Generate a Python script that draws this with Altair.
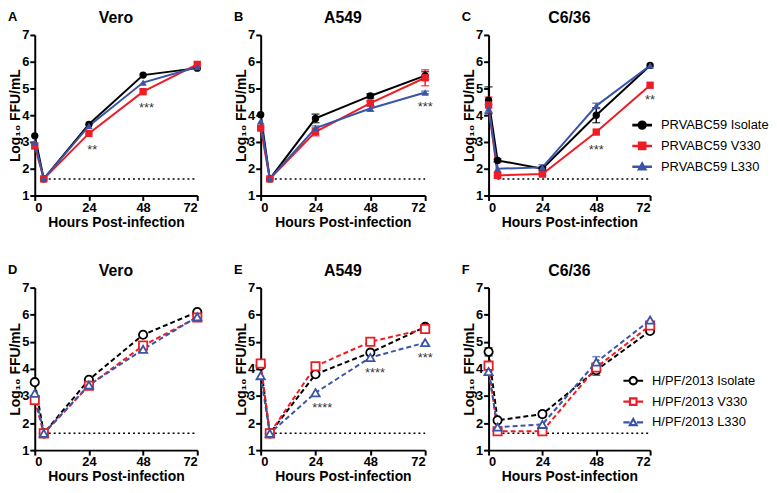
import json
import altair as alt
import pandas as pd

FONT = "Liberation Sans"

hours = [0, 4, 24, 48, 72]

names_top = ["PRVABC59 Isolate", "PRVABC59 V330", "PRVABC59 L330"]
names_bot = ["H/PF/2013 Isolate", "H/PF/2013 V330", "H/PF/2013 L330"]
colors = ["#000000", "#EE1D25", "#3B55A6"]
shapes = ["circle", "square", "triangle-up"]

# legend symbols: a short line with the marker on it
_circ = "M0.5,0A0.5,0.5,0,1,1,-0.5,0A0.5,0.5,0,1,1,0.5,0Z"
_sq = "M-0.45,-0.45H0.45V0.45H-0.45Z"
_tri = "M0,-0.52L0.5,0.38H-0.5Z"
_bar = "M-1.15,-0.07H1.15V0.07H-1.15Z"
_circ_in = "M0.42,0A0.42,0.42,0,1,0,-0.42,0A0.42,0.42,0,1,0,0.42,0Z"
_sq_in = "M-0.37,-0.37V0.37H0.37V-0.37Z"
_tri_in = "M0,-0.36L-0.37,0.3H0.37Z"
_segs = "M-1.15,-0.04H-0.55V0.04H-1.15ZM0.55,-0.04H1.15V0.04H0.55Z"
legend_paths_top = [_bar + _circ, _bar + _sq, _bar + _tri]
legend_paths_bot = [_segs + _circ + _circ_in, _segs + _sq + _sq_in, _segs + _tri + _tri_in]

panel_titles = ["Vero", "A549", "C6/36", "Vero", "A549", "C6/36"]
panel_letters = ["A", "B", "C", "D", "E", "F"]

# titer values (Log10 FFU/mL), per panel, per series (Isolate, V330, L330)
A_iso = [3.23, 1.62, 3.66, 5.50, 5.76]
A_v330 = [2.85, 1.62, 3.32, 4.88, 5.90]
A_l330 = [3.00, 1.62, 3.60, 5.22, 5.80]

B_iso = [4.02, 1.62, 3.88, 4.72, 5.48]
B_v330 = [3.52, 1.62, 3.38, 4.45, 5.40]
B_l330 = [3.78, 1.62, 3.52, 4.25, 4.85]

C_iso = [4.56, 2.31, 2.00, 4.00, 5.86]
C_v330 = [4.38, 1.75, 1.80, 3.37, 5.12]
C_l330 = [4.25, 2.00, 2.05, 4.35, 5.86]

D_iso = [3.51, 1.62, 3.60, 5.26, 6.10]
D_v330 = [2.85, 1.62, 3.38, 4.86, 5.90]
D_l330 = [3.10, 1.62, 3.40, 4.72, 5.92]

E_iso = [4.12, 1.62, 3.80, 4.60, 5.55]
E_v330 = [4.20, 1.62, 4.10, 5.00, 5.47]
E_l330 = [3.75, 1.62, 3.12, 4.42, 4.97]

F_iso = [4.63, 2.10, 2.33, 3.95, 5.40]
F_v330 = [4.12, 1.70, 1.70, 4.05, 5.60]
F_l330 = [3.90, 1.85, 1.95, 4.25, 5.80]

# error bar half-widths (SD)
zero = [0, 0, 0, 0, 0]
B_iso_err = [0, 0, 0.16, 0.08, 0.15]
B_v330_err = [0, 0, 0.15, 0.08, 0.30]
B_l330_err = [0, 0, 0.08, 0.10, 0.05]
C_iso_err = [0.50, 0.05, 0.05, 0.28, 0]
C_v330_err = [0.30, 0.10, 0.05, 0, 0]
C_l330_err = [0.15, 0.25, 0.10, 0.10, 0]
F_iso_err = [0.15, 0, 0.10, 0.18, 0]
F_v330_err = [0, 0, 0, 0.15, 0]
F_l330_err = [0, 0, 0, 0.20, 0]

# significance annotations: (panel, hour, titer, label)
ann_panel = ["A", "A", "B", "C", "C", "E", "E", "E"]
ann_hour = [25.5, 49.5, 72, 48, 72, 27, 50, 72]
ann_titer = [2.85, 4.40, 4.47, 2.85, 4.70, 2.70, 4.00, 4.56]
ann_label = ["**", "***", "***", "***", "**", "****", "****", "***"]

# limit of detection
lod_value = [1.62]
lod_start = [4]
lod_end = [72]

panel_values = {
    "A": [A_iso, A_v330, A_l330],
    "B": [B_iso, B_v330, B_l330],
    "C": [C_iso, C_v330, C_l330],
    "D": [D_iso, D_v330, D_l330],
    "E": [E_iso, E_v330, E_l330],
    "F": [F_iso, F_v330, F_l330],
}
panel_errs = {
    "A": [zero, zero, zero],
    "B": [B_iso_err, B_v330_err, B_l330_err],
    "C": [C_iso_err, C_v330_err, C_l330_err],
    "D": [zero, zero, zero],
    "E": [zero, zero, zero],
    "F": [F_iso_err, F_v330_err, F_l330_err],
}

xs = alt.Scale(domain=[0, 72], nice=False, zero=False)
ys = alt.Scale(domain=[1, 7], nice=False, zero=False)
xaxis = alt.Axis(values=[0, 24, 48, 72], title="Hours Post-infection")
yaxis = alt.Axis(values=[1, 2, 3, 4, 5, 6, 7], title="Log₁₀ FFU/mL", titleX=-12)


def xq(f):
    return alt.X(f"{f}:Q", scale=xs, axis=xaxis)


def yq(f):
    return alt.Y(f"{f}:Q", scale=ys, axis=yaxis)


def make_panel(idx, width, height, legend_pos):
    letter = panel_letters[idx]
    top = idx < 3
    names = names_top if top else names_bot
    rows = []
    for s, name in enumerate(names):
        for h, v, e in zip(hours, panel_values[letter][s], panel_errs[letter][s]):
            rows.append({"series": name, "hour": h, "titer": v, "err": e})
    df = pd.DataFrame(rows)

    if legend_pos is None:
        leg = None
    else:
        leg = alt.Legend(title=None, orient="none", legendX=legend_pos[0], legendY=legend_pos[1])
    Chan = alt.Color if top else alt.Stroke
    key = "color" if top else "stroke"
    cscale = alt.Scale(domain=names, range=colors)
    cenc = Chan("series:N", scale=cscale, legend=leg)
    paths = legend_paths_top if top else legend_paths_bot
    senc = alt.Shape("series:N", scale=alt.Scale(domain=names, range=paths), legend=leg)

    base = alt.Chart(df)
    shape_expr = f"{json.dumps(shapes)}[indexof({json.dumps(names)}, datum.series)]"

    # legend carrier (draws nothing in the plot)
    if top:
        dummy = base.transform_filter("false").mark_point(filled=True, opacity=1)
    else:
        dummy = base.transform_filter("false").mark_point(filled=False, opacity=1, strokeWidth=1.5)
    dummy = dummy.encode(x=xq("hour"), y=yq("titer"), shape=senc, **{key: cenc})

    lod_df = pd.DataFrame({"lod": lod_value, "x0": lod_start, "x1": lod_end})
    lod = alt.Chart(lod_df).mark_rule(strokeDash=[2, 3], strokeWidth=1.5, color="black").encode(
        x=xq("x0"), x2="x1:Q", y=yq("lod")
    )
    line_kw = dict(strokeWidth=2)
    if not top:
        line_kw["strokeDash"] = [5, 3]
    lines = base.mark_line(**line_kw).encode(x=xq("hour"), y=yq("titer"), **{key: cenc})

    eb = base.transform_filter("datum.err > 0.04").transform_calculate(
        lo="datum.titer - datum.err", hi="datum.titer + datum.err"
    )
    bars = eb.mark_rule(strokeWidth=1.5).encode(x=xq("hour"), y=yq("lo"), y2="hi:Q", **{key: cenc})
    caps = eb.transform_fold(["lo", "hi"], as_=["k", "v"]).mark_tick(
        orient="horizontal", size=8, thickness=1.5
    ).encode(
        x=xq("hour"), y=yq("v"),
        color=alt.Color("series:N", scale=cscale, legend=None if not top else leg),
    )

    if top:
        pts = base.mark_point(filled=True, size=55, opacity=1)
    else:
        pts = base.mark_point(filled=False, fill="white", size=70, strokeWidth=1.8, opacity=1)
    pts = pts.transform_calculate(shp=shape_expr).encode(
        x=xq("hour"), y=yq("titer"), shape=alt.Shape("shp:N", scale=None), **{key: cenc}
    )

    layers = [dummy, lod, lines, bars, caps, pts]

    ann = pd.DataFrame({"p": ann_panel, "hour": ann_hour, "titer": ann_titer, "label": ann_label})
    ann = ann[ann["p"] == letter]
    if len(ann):
        stars = alt.Chart(ann).mark_text(font=FONT, fontSize=13, color="#333333", dy=4).encode(
            x=xq("hour"), y=yq("titer"), text="label:N"
        )
        layers.append(stars)

    let = alt.Chart(pd.DataFrame({"t": [letter]})).mark_text(
        font=FONT, fontSize=13, fontWeight="bold", align="left", baseline="top", color="black"
    ).encode(text="t:N", x=alt.value(-27), y=alt.value(-24))
    layers.append(let)

    ttl = alt.Chart(pd.DataFrame({"t": [panel_titles[idx]]})).mark_text(
        font=FONT, fontSize=16, fontWeight="bold", align="center", baseline="alphabetic",
        color="black",
    ).encode(text="t:N", x=alt.value(width / 2), y=alt.value(-12))
    layers.append(ttl)

    return alt.layer(*layers).properties(width=width, height=height)


widths = [164, 166, 163]
charts = []
for i in range(6):
    h = 162 if i < 3 else 164
    lp = None
    if i == 2:
        lp = (146, 82)
    if i == 5:
        lp = (137, 85)
    charts.append(make_panel(i, widths[i % 3], h, lp))

chart = alt.concat(
    *charts, columns=3, spacing={"row": 93, "column": 64}, bounds="flush"
).resolve_scale(
    color="independent", stroke="independent", shape="independent",
    x="independent", y="independent",
).properties(
    padding={"left": 0, "top": 0, "right": 0, "bottom": 0}
).configure_view(stroke=None).configure_axis(
    domainColor="black", domainWidth=2, tickColor="black", tickWidth=2, tickSize=5,
    labelFont=FONT, labelFontSize=13, labelFontWeight="bold", labelColor="black",
    titleFont=FONT, titleFontSize=14, titleFontWeight="bold", titleColor="black",
    grid=False, labelPadding=1,
).configure_axisX(titlePadding=1).configure_legend(
    labelFont=FONT, labelFontSize=13, labelColor="black", symbolSize=256,
    symbolStrokeWidth=1.5, rowPadding=5, labelOffset=10,
)

chart.save("out.html", embed_options={"renderer": "svg", "actions": False})
